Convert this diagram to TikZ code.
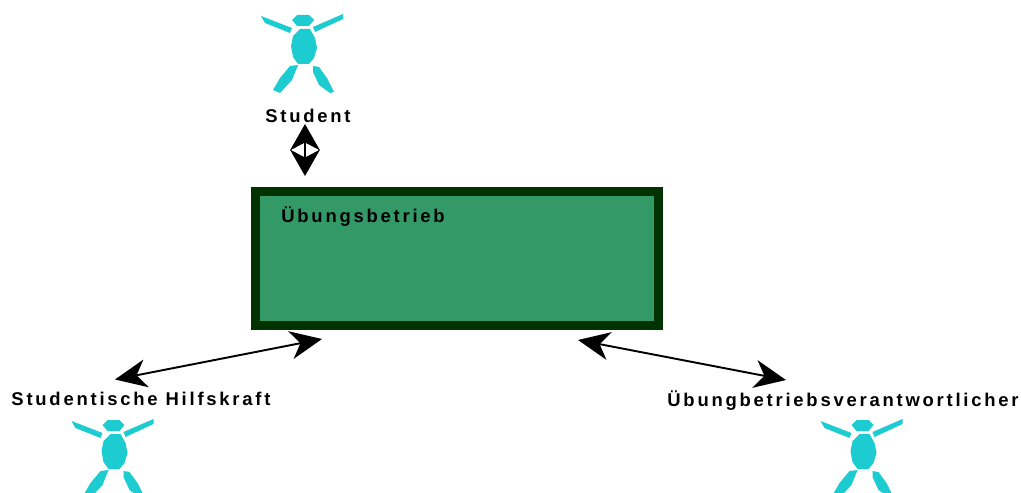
\documentclass[tikz,border=0pt]{standalone}
\usepackage{fontspec}
\setmainfont{Liberation Sans}
\newfontfamily\labelfont[LetterSpace=15]{Liberation Sans Bold}
\usetikzlibrary{arrows.meta}
\definecolor{mcyan}{rgb}{0.11, 0.80, 0.82}
\definecolor{mgreen}{rgb}{0.2, 0.6, 0.4}
\definecolor{mdark}{rgb}{0, 0.2, 0}
\tikzset{rolelabel/.style = {font=\labelfont\fontsize{10.5}{13}\selectfont, inner sep=0pt, anchor=base}}
\tikzset{usage/.style = {{Stealth[length=18pt, width=16pt, inset=5.5pt]}-{Stealth[length=18pt, width=16pt, inset=5.5pt]}, line width=1.1pt}}
\tikzset{shortusage/.style = {{Stealth[length=15pt, width=17pt, inset=4.5pt]}-{Stealth[length=15pt, width=17pt, inset=4.5pt]}, line width=1pt}}
\tikzset{person/.pic = {
    \fill [mcyan] (-12, -26) -- (-7, -31) -- (5, -31) -- (10, -26) -- (5, -20) -- (-7, -20) -- cycle;
    \fill [mcyan] (-4, -17) -- (6, -17) -- (11, -8) -- (13, 2) -- (10, 12) -- (5, 18) -- (-6, 18) -- (-11, 11) -- (-13, 0) -- (-11, -10) -- cycle;
    \fill [mcyan] (-43, -30) -- (-12, -18) -- (-14, -13) -- (-39, -23) -- cycle;
    \fill [mcyan] (39, -32) -- (9, -19) -- (11, -14) -- (39, -27) -- cycle;
    \fill [mcyan] (-14, 20) -- (-6, 19) -- (-12, 34) -- (-24, 47) -- (-31, 44) -- (-24, 32) -- cycle;
    \fill [mcyan] (9, 20) -- (15, 21) -- (23, 32) -- (30, 46) -- (26, 47) -- (15, 39) -- (9, 26) -- cycle;
  }}

\begin{document}
\begin{tikzpicture}[x=0.02cm, y=-0.02cm]
      \useasboundingbox (0, 0) rectangle (1021, 493);
      \clip (0, 0) rectangle (1021, 493);

      \pic at (304, 46) {person};
      \pic at (114.5, 451) {person};
      \pic at (863.5, 451) {person};

      \node [rolelabel] (student) at (308, 122.5) {Student};
      \node [rolelabel] (hilfskraft) at (141, 405.5) {Studentische Hilfskraft};
      \node [rolelabel] (verantwortlicher) at (843, 406) {Übungbetriebsverantwortlicher};

      \node [draw=mdark, fill=mgreen, line width=5.1pt, minimum width=8.06cm, minimum height=2.68cm, inner sep=0pt]
        (betrieb) at (457, 258.5) {};
      \node [rolelabel, anchor=base west] (titel) at (281, 223) {Übungsbetrieb};

      % Pfeilenden
      \coordinate (studentEnd) at (305, 124);
      \coordinate (betriebTop) at (305, 176);
      \coordinate (hilfsEnd) at (115, 379.5);
      \coordinate (betriebLeft) at (322, 339);
      \coordinate (verantEnd) at (786, 380);
      \coordinate (betriebRight) at (578, 340);

      \draw [shortusage] (studentEnd) -- (betriebTop);
      \draw [usage] (hilfsEnd) -- (betriebLeft);
      \draw [usage] (betriebRight) -- (verantEnd);
    \end{tikzpicture}
\end{document}
